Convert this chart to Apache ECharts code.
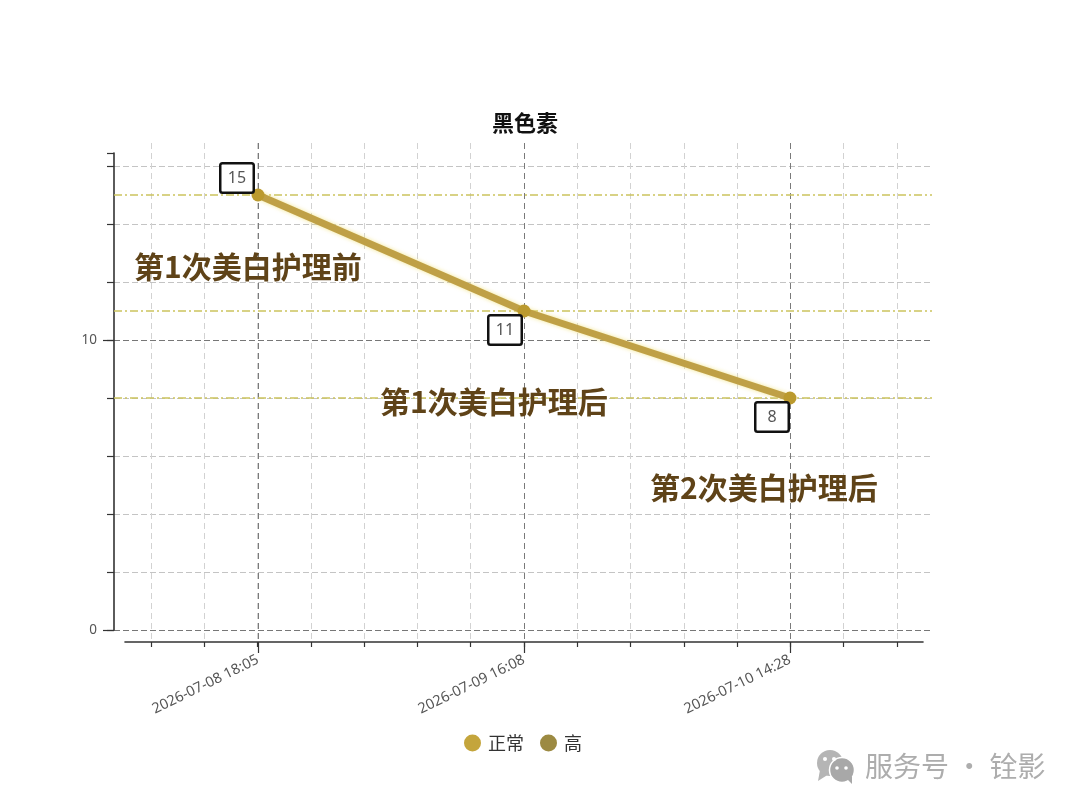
<!DOCTYPE html>
<html><head><meta charset="utf-8">
<style>html,body{margin:0;padding:0;background:#fff}#c{width:1080px;height:810px}</style>
<script src="https://cdn.jsdelivr.net/npm/echarts@6/dist/echarts.min.js"></script>
</head><body><div id="c"></div>
<script>
const chartTitle = '黑色素';
const timeLabels = ['2026-07-08 18:05', '2026-07-09 16:08', '2026-07-10 14:28'];
const normalValues = [15, 11, 8];
const highValues = [];
const referenceLevels = [15, 11, 8];
const yTickLabels = {0: '0', 10: '10'};
const seriesNames = ['正常', '高'];
const seriesColors = ['#c4a53c', '#9c8a42'];
const notes = ['第1次美白护理前', '第1次美白护理后', '第2次美白护理后'];
const watermark = '服务号 · 铨影';

const labelOffsets = [[-21, -17], [-19, 19], [-18, 19]];
const notePlaces = [[134, 268], [380, 403], [650, 489]];

const W = 1080, H = 810;
const PX_PER_UNIT = 29, Y0 = 630;
const valueAt = y => (Y0 - y) / PX_PER_UNIT;
const gridTop = 143, gridBottom = 642;
const noLine = {show: false};

const chart = echarts.init(document.getElementById('c'), null, {renderer: 'canvas'});
const cjk = '"Noto Sans CJK SC"';
chart.setOption({
  backgroundColor: '#fff',
  animation: false,
  title: {
    text: chartTitle, left: 487, top: 107,
    textStyle: {fontFamily: cjk, fontSize: 22, fontWeight: 'bold', color: '#111'}
  },
  legend: {
    data: seriesNames.map((n, i) => ({name: n, itemStyle: {color: seriesColors[i]}})),
    left: 459, top: 729, icon: 'circle',
    itemWidth: 17, itemHeight: 17, itemGap: 16,
    textStyle: {fontFamily: cjk, fontSize: 18, color: '#333', padding: [0, 0, 0, 2]}
  },
  grid: [
    {left: 114, right: W - 932, top: 153, bottom: H - Y0},
    {left: 151, right: W - 897, top: gridTop, bottom: H - gridBottom},
    {left: 258, right: W - 790, top: gridTop, bottom: H - gridBottom},
    {left: 125, right: W - 923, top: gridTop, bottom: H - gridBottom}
  ],
  xAxis: [
    {gridIndex: 0, type: 'value', min: 0, max: 1, show: false},
    {gridIndex: 1, type: 'value', min: -0.4, max: 2.4, interval: 0.2, position: 'bottom',
      axisLine: {show: false, onZero: false}, axisLabel: noLine,
      axisTick: {show: true, length: 5, lineStyle: {color: '#333', width: 1.2}},
      splitLine: {show: true, lineStyle: {color: '#d2d2d2', type: [6, 4], width: 1}}},
    {gridIndex: 2, type: 'value', min: 0, max: 2, interval: 1, position: 'bottom',
      axisLine: {show: false, onZero: false},
      axisTick: {show: true, length: 11, lineStyle: {color: '#333', width: 1.2}},
      axisLabel: {show: true, rotate: 26, margin: 17, fontFamily: '"Noto Sans"', fontSize: 14.5, color: '#555',
        formatter: v => timeLabels[v] || ''},
      splitLine: {show: true, lineStyle: {color: '#7a7a7a', type: [6, 4], width: 1}}},
    {gridIndex: 3, type: 'value', min: 0, max: 1, position: 'bottom',
      axisLine: {show: true, onZero: false, lineStyle: {color: '#333', width: 1.6}},
      axisTick: noLine, axisLabel: noLine, splitLine: noLine}
  ],
  yAxis: [
    {gridIndex: 0, type: 'value', min: 0, max: valueAt(153), interval: 2, position: 'left',
      axisLine: {show: true, onZero: false, lineStyle: {color: '#333', width: 1.6}},
      axisTick: {show: true, length: 7, lineStyle: {color: '#333', width: 1.2}},
      axisLabel: noLine,
      splitLine: {show: true, showMaxLine: false, lineStyle: {color: '#c4c4c4', type: [6, 3], width: 1}}},
    {gridIndex: 0, type: 'value', min: 0, max: valueAt(153), interval: 10, position: 'left',
      axisLine: {show: false, onZero: false},
      axisTick: {show: true, length: 11, lineStyle: {color: '#333', width: 1.2}},
      axisLabel: {show: true, showMaxLabel: false, margin: 17, fontFamily: '"Noto Sans"', fontSize: 13.5, color: '#555',
        formatter: v => yTickLabels[v] || ''},
      splitLine: {show: true, showMaxLine: false, lineStyle: {color: '#777', type: [6, 3], width: 1}}},
    {gridIndex: 1, type: 'value', min: valueAt(gridBottom), max: valueAt(gridTop), show: false},
    {gridIndex: 2, type: 'value', min: valueAt(gridBottom), max: valueAt(gridTop), show: false},
    {gridIndex: 3, type: 'value', min: valueAt(gridBottom), max: valueAt(gridTop), show: false}
  ],
  series: [
    {
      name: seriesNames[0], type: 'line', xAxisIndex: 2, yAxisIndex: 3, clip: false, z: 5,
      color: seriesColors[0],
      symbol: 'circle', symbolSize: 13,
      itemStyle: {color: '#bb9a2e'},
      lineStyle: {color: '#bfa046', width: 7, shadowColor: 'rgba(240,225,120,0.8)', shadowBlur: 4},
      data: normalValues.map((v, i) => ({
        value: [i, v],
        label: {offset: labelOffsets[i]}
      })),
      label: {
        show: true, position: 'inside', formatter: p => String(p.value[1]),
        fontFamily: '"Noto Sans"', fontSize: 16, color: '#555',
        backgroundColor: '#fff', borderColor: '#111', borderWidth: 2.5, borderRadius: 1,
        width: 31, height: 27, lineHeight: 27, align: 'center', verticalAlign: 'middle'
      }
    },
    {
      name: seriesNames[1], type: 'line', xAxisIndex: 0, yAxisIndex: 0, z: 3,
      color: seriesColors[1], data: highValues, symbol: 'circle',
      markLine: {
        silent: true, symbol: 'none', label: {show: false},
        lineStyle: {color: '#cbc35e', type: [8, 3, 2, 3], width: 1.5},
        data: referenceLevels.map(v => ({yAxis: v}))
      }
    }
  ],
  graphic: [
    ...notes.map((t, i) => ({
      type: 'text', left: notePlaces[i][0], top: notePlaces[i][1] - 16, z: 20,
      style: {text: t, fontFamily: cjk, fontSize: 30, fontWeight: 'bold', fill: '#5f4318'}
    })),
    {type: 'text', left: 865, top: 752, z: 20,
      style: {text: watermark, fontFamily: cjk, fontSize: 28, fill: '#adadad'}},
    {type: 'group', left: 817, top: 750, z: 20, children: [
      {type: 'circle', shape: {cx: 16, cy: 13, r: 13}, style: {fill: '#b5b5b5'}},
      {type: 'polygon', shape: {points: [[6, 20], [4, 31], [15, 24]]}, style: {fill: '#b5b5b5'}},
      {type: 'circle', shape: {cx: 28, cy: 20, r: 12.5}, style: {fill: '#a8a8a8', stroke: '#fff', lineWidth: 1.5}},
      {type: 'polygon', shape: {points: [[33, 29], [38, 34], [38, 26]]}, style: {fill: '#a8a8a8'}},
      {type: 'circle', shape: {cx: 11, cy: 9, r: 2}, style: {fill: '#fff'}},
      {type: 'circle', shape: {cx: 20, cy: 9, r: 2}, style: {fill: '#fff'}},
      {type: 'circle', shape: {cx: 23, cy: 18, r: 1.8}, style: {fill: '#fff'}},
      {type: 'circle', shape: {cx: 32, cy: 18, r: 1.8}, style: {fill: '#fff'}}
    ]}
  ]
});
</script></body></html>
